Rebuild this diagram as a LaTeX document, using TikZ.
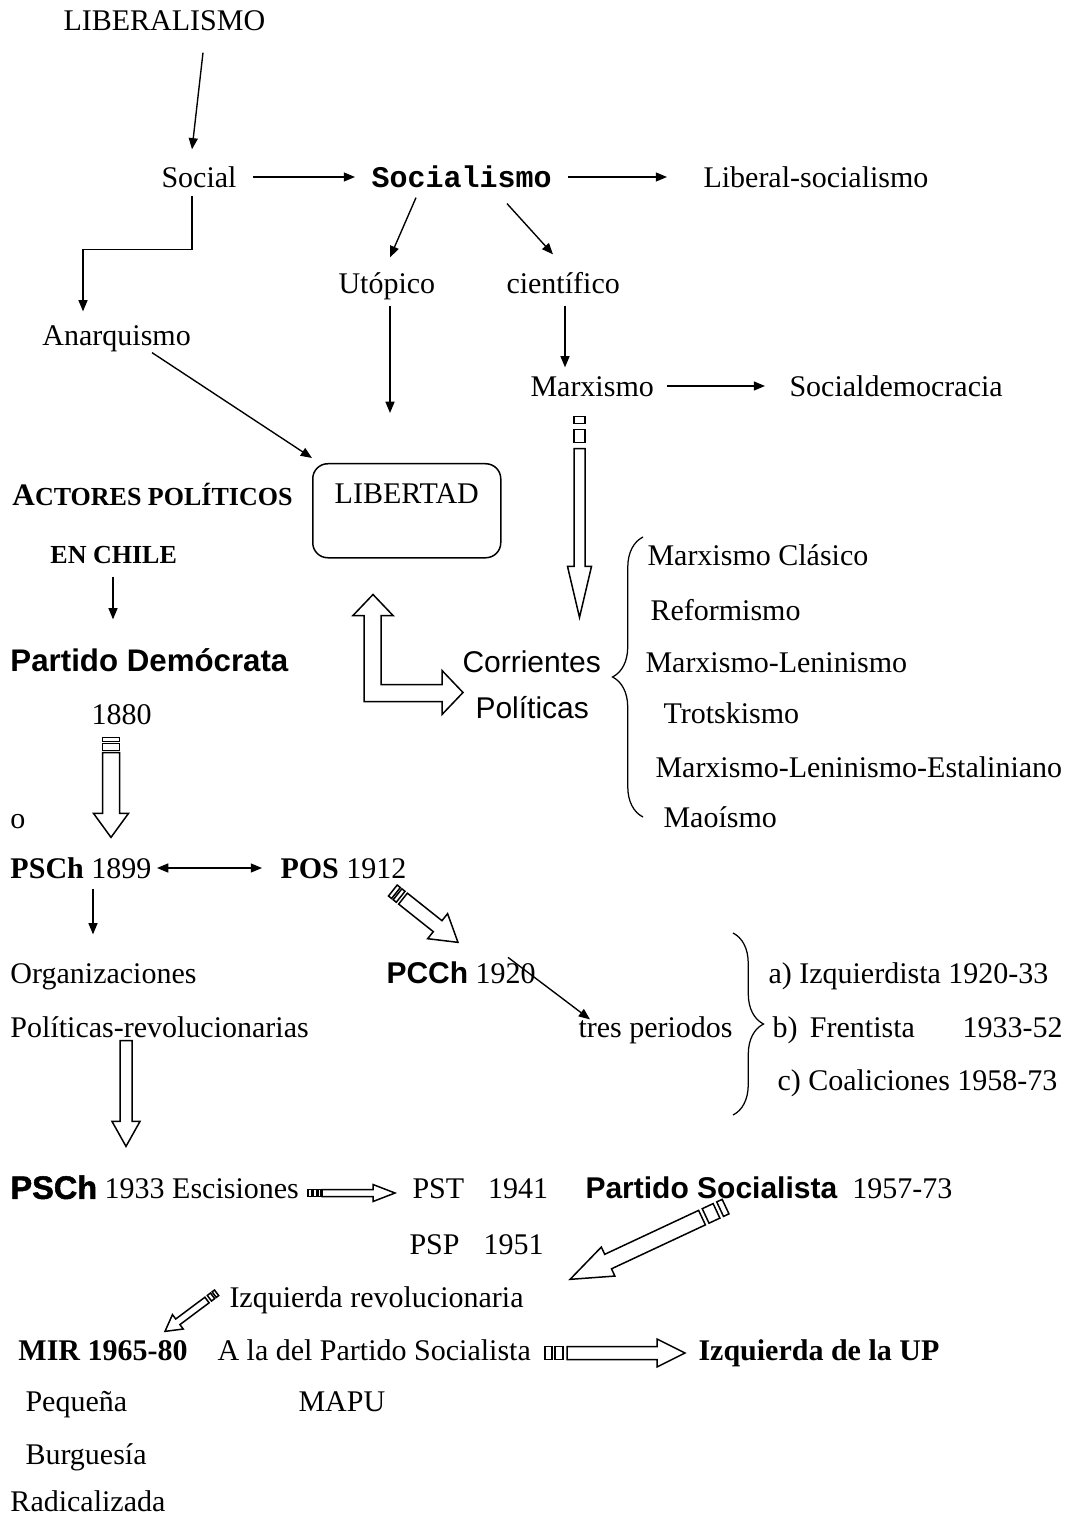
\documentclass[tikz,border=0pt]{standalone}
\usepackage{fontspec}
\setmainfont{Liberation Serif}
\newfontfamily\sansf{Liberation Sans}
\newfontfamily\heavyf{Liberation Sans Bold}[FakeBold=1.5]
\newfontfamily\monof{Liberation Mono}
\usetikzlibrary{arrows.meta,positioning,calc,decorations.pathreplacing}

% hollow block arrow: tail, tip, shaft half width, head half width, head length, stripes
\newcommand{\hollowarrow}[6]{%
  \path let \p1=(#1), \p2=(#2) in \pgfextra{%
    \pgfmathsetmacro\hollowang{atan2((\y2)-(\y1),(\x2)-(\x1))}%
    \pgfmathsetmacro\hollowlen{veclen((\x2)-(\x1),(\y2)-(\y1))/0.4}%
    \xdef\hollowang{\hollowang}\xdef\hollowlen{\hollowlen}};
  \begin{scope}[shift={(#1)}, rotate=\hollowang]
    \draw[hollow] (0,-#3) -- ({\hollowlen-#5},-#3) -- ({\hollowlen-#5},-#4) -- (\hollowlen,0)
      -- ({\hollowlen-#5},#4) -- ({\hollowlen-#5},#3) -- (0,#3) -- cycle;
    \if\relax\detokenize{#6}\relax\else
      \foreach \ta/\tb in {#6} {\draw[hollow] (\ta,-#3) rectangle (\tb,#3);}
    \fi
  \end{scope}}

\begin{document}
\begin{tikzpicture}[
  x=0.4pt, y=-0.4pt,
  txt/.style={anchor=west, inner sep=0pt, text height=9.6pt, text depth=0.9pt, font=\fontsize{12}{14}\selectfont},
  sanstxt/.style={txt, font=\fontsize{12}{14}\selectfont\sansf},
  boldsans/.style={txt, font=\fontsize{12.5}{14}\selectfont\sansf\bfseries},
  boldtxt/.style={txt, font=\fontsize{12}{14}\selectfont\bfseries},
  deco/.style={txt, font=\fontsize{10.4}{12}\selectfont\bfseries},
  roundbox/.style={draw, rounded corners=6pt, line width=0.6pt, anchor=north west, inner xsep=0pt, inner ysep=8pt,
    text height=8pt, text depth=13.6pt, minimum width=75.2pt, font=\fontsize{12}{14}\selectfont},
  arr/.style={-{Triangle[length=4.5pt,width=3.6pt]}, line width=0.55pt},
  dblarr/.style={{Triangle[length=4.5pt,width=3.6pt]}-{Triangle[length=4.5pt,width=3.6pt]}, line width=0.55pt},
  hollow/.style={draw, line width=0.6pt, fill=white},
  bracebar/.style={decorate, decoration={brace, amplitude=12.2pt}, line width=0.5pt},
]
  \useasboundingbox (0,0) rectangle (1068,1517);

  % upper part
  \node[txt] (lib) at (63,20) {LIBERALISMO};
  \node[txt] (social) at (161,177) {Social};
  \node[txt, font=\fontsize{12}{14}\selectfont\monof\bfseries] (socialismo) at (371,177) {Socialismo};
  \node[txt] (libsoc) at (703,177) {Liberal-socialismo};
  \node[txt] (utop) at (338,283) {Utópico};
  \node[txt] (cient) at (506,283) {científico};
  \node[txt] (anarq) at (42,335) {Anarquismo};
  \node[txt] (marx) at (530,386) {Marxismo};
  \node[txt] (socdem) at (789,386) {Socialdemocracia};
  \node[roundbox] (libertad) at (312,463) {LIBERTAD};
  \node[deco] (actores) at (12,495) {{\fontsize{12.5}{12}\selectfont A}CTORES POLÍTICOS};
  \node[deco] (enchile) at (50,553) {EN CHILE};
  \node[boldsans] (pdem) at (10,661) {Partido Demócrata};
  \node[txt] (y1880) at (91,714) {1880};
  \node[sanstxt] (corr) at (462,662) {Corrientes};
  \node[sanstxt] (polit) at (475,708) {Políticas};

  % corrientes
  \node[txt] (mclas) at (647,555) {Marxismo Clásico};
  \node[txt] (reform) at (650,610) {Reformismo};
  \node[txt] (mlen) at (645,662) {Marxismo-Leninismo};
  \node[txt] (trots) at (663,713) {Trotskismo};
  \node[txt] (mlest) at (655,767) {Marxismo-Leninismo-Estaliniano};
  \node[txt] (mao) at (663,817) {Maoísmo};

  % partidos
  \node[txt] (o) at (10,818) {o};
  \node[txt] (psch) at (10,868) {\textbf{PSCh} 1899};
  \node[txt] (pos) at (280,868) {\textbf{POS} 1912};
  \node[txt] (org) at (10,973) {Organizaciones};
  \node[txt] (polrev) at (10,1027) {Políticas-revolucionarias};
  \node[txt] (pcch) at (386,973) {{\sansf\bfseries PCCh} 1920};
  \node[txt] (tres) at (578,1027) {tres periodos};
  \node[txt] (pa) at (768,973) {a) Izquierdista 1920-33};
  \node[txt] (pb) at (772,1027) {b)\hspace{5pt}Frentista\hspace{19pt}1933-52};
  \node[txt] (pc) at (777,1080) {c) Coaliciones 1958-73};
  \node[txt] (psch33) at (10,1188) {{\fontsize{13}{14}\selectfont\heavyf PSCh} 1933 Escisiones};
  \node[txt] (pst) at (412,1188) {PST\hspace{9.6pt}1941};
  \node[txt] (ps) at (585,1188) {{\sansf\bfseries Partido Socialista}\hspace{6pt}1957-73};
  \node[txt] (psp) at (409,1244) {PSP\hspace{9.6pt}1951};
  \node[txt] (izqrev) at (229,1297) {Izquierda revolucionaria};
  \node[boldtxt] (mir) at (18,1350) {MIR 1965-80};
  \node[txt] (alad) at (217,1350) {A la del Partido Socialista};
  \node[boldtxt] (izqup) at (698,1350) {Izquierda de la UP};
  \node[txt] (peq) at (25,1401) {Pequeña};
  \node[txt] (mapu) at (298,1401) {MAPU};
  \node[txt] (burg) at (25,1454) {Burguesía};
  \node[txt] (rad) at (10,1501) {Radicalizada};

  % thin arrows
  \draw[arr] ($(lib.south west)+(140,19)$) -- ($(social.north west)+(31,-14)$);
  \draw[arr] ($(social.west)+(92,0)$) -- ($(socialismo.west)+(-16,0)$);
  \draw[arr] ($(socialismo.west)+(197,0)$) -- ($(libsoc.west)+(-36,0)$);
  \draw[arr] ($(social.south west)+(31,5)$) |- ($(anarq.north west)+(41,-72)$) -- ($(anarq.north west)+(41,-10)$);
  \draw[arr] ($(socialismo.south west)+(45,7)$) -- ($(utop.north west)+(52,-12)$);
  \draw[arr] ($(socialismo.south west)+(136,13)$) -- ($(cient.north west)+(47,-15)$);
  \draw[arr] ($(cient.south west)+(59,9)$) -- ($(marx.north west)+(35,-5)$);
  \draw[arr] ($(marx.west)+(137,0)$) -- ($(socdem.west)+(-24,0)$);
  \draw[arr] ($(utop.south west)+(52,9)$) -- ($(libertad.north west)+(78,-50)$);
  \draw[arr] ($(anarq.south west)+(110,4)$) -- ($(libertad.north west)+(0,-5)$);
  \draw[arr] ($(enchile.south west)+(63,10)$) -- ($(pdem.north west)+(103,-28)$);
  \draw[dblarr] ($(psch.west)+(147,0)$) -- ($(pos.west)+(-18,0)$);
  \draw[arr] ($(psch.south west)+(83,7)$) -- ($(org.north west)+(83,-25)$);
  \draw[arr] ($(pcch.north west)+(122,-2)$) -- ($(tres.north west)+(12,6)$);

  % block arrows
  \hollowarrow{$(y1880.south west)+(20,25)$}{$(psch.north west)+(101,-17)$}{8.5}{17.5}{24}{-15/-11,-9/-2}
  \hollowarrow{$(marx.south west)+(49.5,49)$}{$(corr.north west)+(117.5,-31)$}{5.5}{12}{51}{-32/-25,-19/-6}
  \draw[hollow] ($(libertad.south west)+(61,36)$) -- ++(20,21) -- ++(-12,0) -- ++(0,69) -- ++(61,0) -- ++(0,-14)
    -- ++(21,22) -- ++(-21,22) -- ++(0,-13) -- ++(-78,0) -- ++(0,-86) -- ++(-11,0) -- cycle;
  \hollowarrow{$(pos.south west)+(123,17)$}{$(pcch.north west)+(72,-17)$}{7}{16}{26}{-13/-9,-7/-3}
  \hollowarrow{$(polrev.south west)+(116,0)$}{$(psch33.north west)+(116,-28)$}{6}{14}{25}{}
  \hollowarrow{$(psch33.west)+(312,5)$}{$(pst.west)+(-17,5)$}{3.5}{8.5}{22}{-14/-10.5,-9/-5.5,-4/-1}
  \hollowarrow{$(ps.south west)+(117,16)$}{$(izqrev.north west)+(341,-4)$}{8}{16}{42}{-26/-20,-16/-4}
  \hollowarrow{$(izqrev.west)+(-22,3)$}{$(mir.north west)+(147,-5)$}{3.5}{9}{16}{-12/-9,-7/-3}
  \hollowarrow{$(alad.west)+(350,3)$}{$(izqup.west)+(-13,3)$}{6.5}{14}{28}{-22/-15,-12/-4}

  % braces
  \draw[bracebar] ($(mao.west)+(-20,0)$) -- ($(mclas.west)+(-4,-18)$);
  \draw[bracebar] ($(tres.west)+(155,-94)$) -- ($(tres.west)+(155,88)$);
\end{tikzpicture}
\end{document}
